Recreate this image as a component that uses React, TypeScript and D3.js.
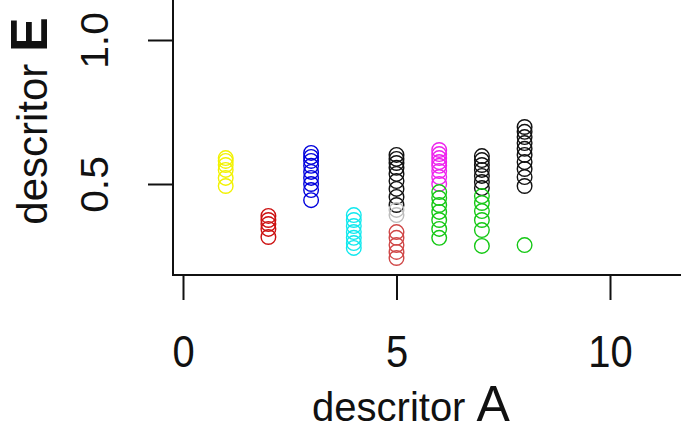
import React, { useRef, useEffect } from 'react';
import * as d3 from 'd3';

const WIDTH = 681;
const HEIGHT = 432;
const FONT = '"Liberation Sans", Arial, sans-serif';

// descritor A position of each group
const groupX = [1, 2, 3, 4, 5, 5, 5, 6, 6, 7, 7, 8, 8];
const groupColor = [
  '#f2f200', '#cc1010', '#0000dd', '#10e8ee', '#111111', '#bdbdbd', '#d04848',
  '#ee22ee', '#14c814', '#111111', '#14c814', '#111111', '#14c814',
];

// descritor E values per group
const yellow1 = [0.59, 0.58, 0.566, 0.549, 0.521, 0.493];
const red2 = [0.389, 0.375, 0.361, 0.344, 0.316];
const blue3 = [0.608, 0.594, 0.58, 0.563, 0.542, 0.521, 0.5, 0.479, 0.444];
const cyan4 = [0.392, 0.375, 0.354, 0.333, 0.313, 0.295, 0.278];
const black5 = [0.601, 0.587, 0.573, 0.556, 0.535, 0.51, 0.483, 0.455, 0.427];
const gray5 = [0.41, 0.392];
const red5 = [0.333, 0.313, 0.288, 0.264, 0.243];
const magenta6 = [0.618, 0.604, 0.59, 0.576, 0.563, 0.545, 0.524, 0.5];
const green6 = [0.472, 0.451, 0.427, 0.403, 0.375, 0.344, 0.313];
const black7 = [0.597, 0.583, 0.566, 0.549, 0.528, 0.507, 0.486];
const green7 = [0.458, 0.434, 0.406, 0.375, 0.34, 0.285];
const black8 = [0.698, 0.681, 0.663, 0.642, 0.622, 0.601, 0.576, 0.552, 0.524, 0.493];
const green8 = [0.288];

const groupValues = [
  yellow1, red2, blue3, cyan4, black5, gray5, red5,
  magenta6, green6, black7, green7, black8, green8,
];

const xTicks = [0, 5, 10];
const yTicks = [0.5, 1.0];

const App: React.FC = () => {
  const svgRef = useRef<SVGSVGElement>(null);

  useEffect(() => {
    const svgElement = svgRef.current;
    if (!svgElement) return;
    const svg = d3.select(svgElement);
    svg.selectAll('*').remove();

    // plot frame (left / bottom box lines)
    const left = 173;
    const bottom = 275;

    const x = d3.scaleLinear().domain([0, 10]).range([183, 610]);
    const y = d3.scaleLinear().domain([0, 1]).range([328, 40]);

    svg.append('rect').attr('width', WIDTH).attr('height', HEIGHT).attr('fill', '#fff');

    // points
    const pts: Array<{ x: number; y: number; color: string }> = [];
    groupValues.forEach((vals, gi) => {
      vals.forEach(v => pts.push({ x: groupX[gi], y: v, color: groupColor[gi] }));
    });

    svg.append('g')
      .selectAll('circle')
      .data(pts)
      .join('circle')
      .attr('cx', d => x(d.x))
      .attr('cy', d => y(d.y))
      .attr('r', 7.3)
      .attr('fill', 'none')
      .attr('stroke', d => d.color)
      .attr('stroke-width', 1.4);

    // box lines
    svg.append('path')
      .attr('d', `M${left},0 V${bottom} H${WIDTH}`)
      .attr('fill', 'none').attr('stroke', '#111').attr('stroke-width', 2);

    // x axis
    const xa = svg.append('g').attr('transform', `translate(0,${bottom + 1})`)
      .call(d3.axisBottom(x).tickValues(xTicks).tickSize(24).tickFormat(d3.format('d')));
    xa.select('.domain').remove();
    xa.selectAll('line').attr('stroke', '#111').attr('stroke-width', 2);
    xa.selectAll('text').attr('fill', '#111').attr('font-family', FONT).attr('font-size', '42px')
      .attr('dy', null).attr('y', 0)
      .attr('transform', `translate(0,91) scale(0.95,1.05)`);

    // y axis
    const ya = svg.append('g').attr('transform', `translate(${left},0)`)
      .call(d3.axisLeft(y).tickValues(yTicks).tickSize(25).tickFormat(d3.format('.1f')));
    ya.select('.domain').remove();
    ya.selectAll('line').attr('stroke', '#111').attr('stroke-width', 2);
    ya.selectAll('text').attr('fill', '#111').attr('font-family', FONT).attr('font-size', '40px')
      .attr('dy', null).attr('x', 0).attr('y', 0)
      .attr('text-anchor', 'middle')
      .attr('transform', `translate(-65,0) scale(0.95,1.02) rotate(-90)`);

    // x label
    const xl = svg.append('text')
      .attr('x', 411).attr('y', 421)
      .attr('text-anchor', 'middle')
      .attr('font-family', FONT).attr('fill', '#111');
    xl.append('tspan').attr('font-size', '40px').text('descritor ');
    xl.append('tspan').attr('font-size', '50px').text('A');

    // y label
    const yl = svg.append('text')
      .attr('transform', `translate(47,121) rotate(-90)`)
      .attr('text-anchor', 'middle')
      .attr('font-family', FONT).attr('fill', '#111');
    yl.append('tspan').attr('font-size', '42px').text('descritor ');
    yl.append('tspan').attr('font-size', '52px').attr('font-weight', 'bold').text('E');
  }, []);

  return (
    <svg
      ref={svgRef}
      width={WIDTH}
      height={HEIGHT}
      style={{ position: 'absolute', left: 0, top: 0, display: 'block' }}
    />
  );
};

export default App;
